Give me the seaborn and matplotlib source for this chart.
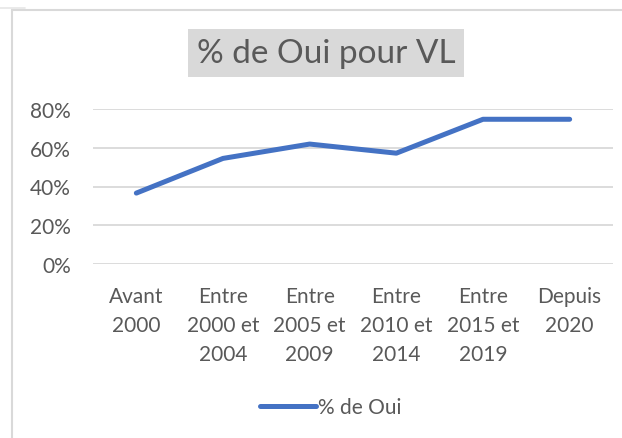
import numpy as np
import pandas as pd
import matplotlib
matplotlib.use("Agg")
import matplotlib.pyplot as plt
import seaborn as sns
from matplotlib.lines import Line2D
from matplotlib.ticker import PercentFormatter

# data
periodes = ["Avant\n2000", "Entre\n2000 et\n2004", "Entre\n2005 et\n2009",
            "Entre\n2010 et\n2014", "Entre\n2015 et\n2019", "Depuis\n2020"]
pct_oui = [0.366, 0.545, 0.619, 0.572, 0.747, 0.747]
y_ticks = [0.0, 0.2, 0.4, 0.6, 0.8]

TXT = "#595959"
GRID = "#D9D9D9"
BLUE = "#4472C4"

sns.set_style("white")
plt.rcParams["font.family"] = ["Lato", "DejaVu Sans"]

df = pd.DataFrame({"periode": periodes, "pct": pct_oui})
df["pos"] = np.arange(len(df))

W, H = 622, 439
fig = plt.figure(figsize=(W / 100, H / 100), dpi=100)
ax = fig.add_axes([93 / W, (H - 265) / H, 520 / W, 155 / H])

sns.lineplot(data=df, x="pos", y="pct", ax=ax, color=BLUE, linewidth=3.6,
             solid_capstyle="round", solid_joinstyle="round", zorder=3)

ax.set_xlim(-0.5, len(df) - 0.5)
ax.set_ylim(0, 0.8)
ax.set_yticks(y_ticks)
ax.yaxis.set_major_formatter(PercentFormatter(1.0, decimals=0))
ax.set_xticks(df["pos"])
ax.set_xticklabels(df["periode"], linespacing=1.55)
ax.grid(axis="y", color=GRID, linewidth=1.3)
ax.set_axisbelow(True)
ax.tick_params(axis="both", length=0, labelsize=15, colors=TXT)
ax.tick_params(axis="x", pad=16)
ax.tick_params(axis="y", pad=16)
ax.set_xlabel("")
ax.set_ylabel("")
for s in ax.spines.values():
    s.set_visible(False)

# title in a grey box
fig.text(326 / W, 1 - 54 / H, "% de Oui pour VL", ha="center", va="center",
         fontsize=24, color=TXT,
         bbox=dict(boxstyle="square,pad=0.26", facecolor=GRID, edgecolor="none"))

# legend
handle = Line2D([], [], color=BLUE, linewidth=3.6, solid_capstyle="round")
fig.legend([handle], ["% de Oui"], loc="center", bbox_to_anchor=(331 / W, 1 - 408 / H),
           frameon=False, fontsize=15, labelcolor=TXT, handlelength=2.7,
           handletextpad=0.1)

# chart frame borders from the spreadsheet
fig.add_artist(Line2D([12 / W, 1], [1 - 11 / H, 1 - 11 / H], color="#D9D9D9", linewidth=1.5))
fig.add_artist(Line2D([12 / W, 12 / W], [0, 1 - 11 / H], color="#D9D9D9", linewidth=1.5))
fig.add_artist(Line2D([0, 25 / W], [1 - 9 / H, 1 - 9 / H], color="#E6E6E6", linewidth=1.2))

fig.savefig("out.png", dpi=100)
